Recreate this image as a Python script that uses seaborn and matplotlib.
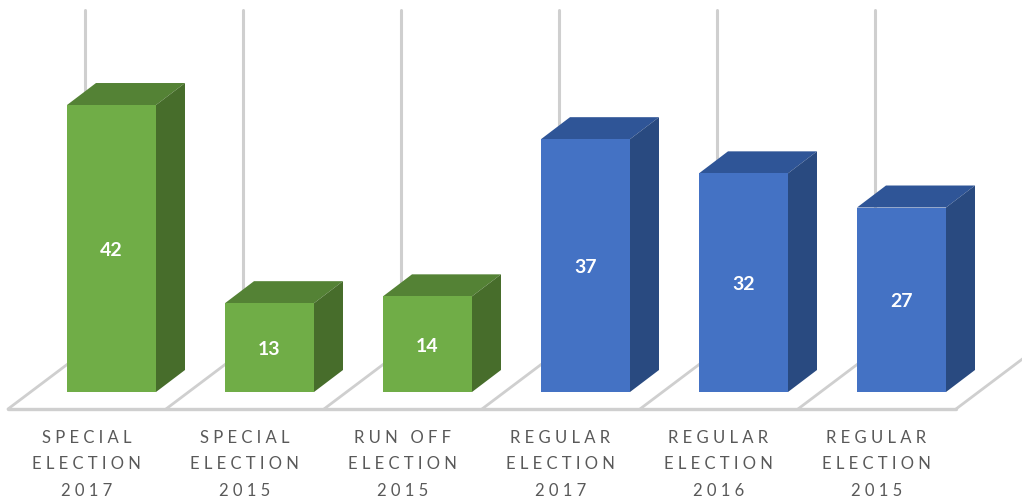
import matplotlib
matplotlib.use("Agg")
import matplotlib.pyplot as plt
from matplotlib.patches import Polygon
from matplotlib.transforms import ScaledTranslation
import pandas as pd
import seaborn as sns

categories = ["SPECIAL\nELECTION\n2017", "SPECIAL\nELECTION\n2015", "RUN OFF\nELECTION\n2015",
              "REGULAR\nELECTION\n2017", "REGULAR\nELECTION\n2016", "REGULAR\nELECTION\n2015"]
values = [42, 13, 14, 37, 32, 27]
groups = ["special", "special", "special", "regular", "regular", "regular"]

front = {"special": "#70AD47", "regular": "#4472C4"}
top = {"special": "#548235", "regular": "#2F5597"}
side = {"special": "#476D2B", "regular": "#294A80"}
front_by_hex = {matplotlib.colors.to_hex(v): k for k, v in front.items()}

PX_X, PX_Y = 158.0, 6.833
DX, DY = 29 / PX_X, 22 / PX_Y
GX, GY = 77 / PX_X, 58 / PX_Y
GRID = "#CFCFCF"

sns.set_theme(style="white")
plt.rcParams["font.family"] = ["Lato", "DejaVu Sans"]

df = pd.DataFrame({"category": categories, "value": values, "group": groups})
fig = plt.figure(figsize=(10.22, 5.02), dpi=100, facecolor="white")
ax = fig.add_axes([0, 1 - 416 / 502, 1, 416 / 502])

sns.barplot(data=df, x="category", y="value", hue="group", palette=front, dodge=False,
            width=89 / PX_X, legend=False, saturation=1, ax=ax, zorder=5,
            edgecolor="none")

ax.set_xlim(-111.5 / PX_X, (1022 - 111.5) / PX_X)
ax.set_ylim(-23 / PX_Y, 393 / PX_Y)
ax.set_xlabel("")
ax.set_ylabel("")
for s in ax.spines.values():
    s.set_visible(False)

# floor and back-wall grid, from the category positions
floor_y = -17 / PX_Y
back_y = floor_y + GY
top_y = 382 / PX_Y
for i in range(len(categories) + 1):
    x0 = i - 103.5 / PX_X
    ax.plot([x0, x0 + GX], [floor_y, back_y], color=GRID, lw=2.0, zorder=1,
            solid_capstyle="round")
    if i < len(categories):
        ax.plot([x0 + GX] * 2, [back_y, top_y], color=GRID, lw=2.2, zorder=1,
                solid_capstyle="round")
ax.plot([-103.5 / PX_X, len(categories) - 103.5 / PX_X], [floor_y, floor_y],
        color=GRID, lw=2.4, zorder=1, solid_capstyle="round")

# 3D faces derived from each bar's own geometry
for container in ax.containers:
    for bar in container:
        x, w, h = bar.get_x(), bar.get_width(), bar.get_height()
        g = front_by_hex[matplotlib.colors.to_hex(bar.get_facecolor())]
        ax.add_patch(Polygon([(x, h), (x + DX, h + DY), (x + w + DX, h + DY), (x + w, h)],
                             closed=True, facecolor=top[g], edgecolor="none", zorder=4))
        ax.add_patch(Polygon([(x + w, 0), (x + w + DX, DY), (x + w + DX, h + DY), (x + w, h)],
                             closed=True, facecolor=side[g], edgecolor="none", zorder=4))
    for lab in ax.bar_label(container, label_type="center", color="white", fontweight="bold",
                            fontsize=14, zorder=6):
        ox, oy = lab.xyann
        lab.xyann = (ox, oy - 0.7)

ax.set_xticks(range(len(categories)))
ax.set_xticklabels(["\n".join(" ".join(line) for line in c.split("\n")) for c in categories])
ax.tick_params(axis="x", length=0, pad=10, labelsize=12, labelcolor="#595959")
shift = ScaledTranslation(-25 / 100, 0, fig.dpi_scale_trans)
for t in ax.get_xticklabels():
    t.set_linespacing(1.8)
    t.set_transform(t.get_transform() + shift)
ax.tick_params(axis="y", left=False, labelleft=False)

fig.savefig("out.png", dpi=100, facecolor="white")
